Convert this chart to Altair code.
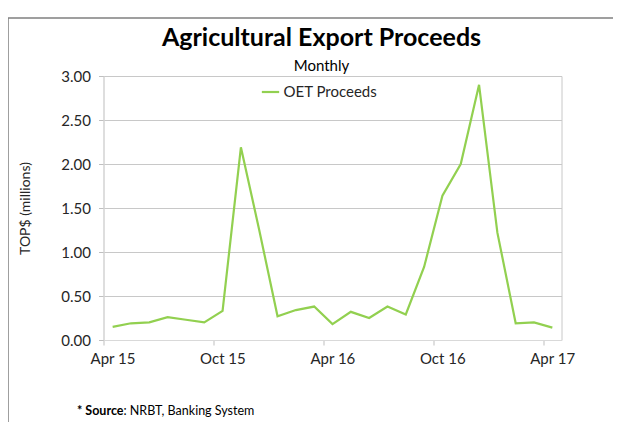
import altair as alt
import pandas as pd

months = ["Apr 15", "May 15", "Jun 15", "Jul 15", "Aug 15", "Sep 15", "Oct 15", "Nov 15",
          "Dec 15", "Jan 16", "Feb 16", "Mar 16", "Apr 16", "May 16", "Jun 16", "Jul 16",
          "Aug 16", "Sep 16", "Oct 16", "Nov 16", "Dec 16", "Jan 17", "Feb 17", "Mar 17", "Apr 17"]
proceeds = [0.15, 0.19, 0.20, 0.26, 0.23, 0.20, 0.33, 2.19,
            1.25, 0.27, 0.34, 0.38, 0.18, 0.32, 0.25, 0.38,
            0.29, 0.83, 1.64, 2.00, 2.90, 1.22, 0.19, 0.20, 0.14]
series_name = "OET Proceeds"
tick_labels = ["Apr 15", "Oct 15", "Apr 16", "Oct 16", "Apr 17"]
y_ticks = [0, 0.5, 1.0, 1.5, 2.0, 2.5, 3.0]
source_bold = "* Source"
source_rest = ": NRBT, Banking System"

df = pd.DataFrame({
    "idx": list(range(len(months))),
    "month": months,
    "value": proceeds,
    "series": [series_name] * len(months),
})
one = pd.DataFrame({"k": [0]})

FONT = "Lato"
W, H = 458, 264
label_expr = "[" + ",".join("'%s'" % t for t in tick_labels) + "][round((datum.value + 0.5) / 6)]"

line = alt.Chart(df).mark_line(strokeWidth=2.2).encode(
    x=alt.X("idx:Q",
            scale=alt.Scale(domain=[-0.5, len(months) - 0.5], nice=False, zero=False),
            axis=alt.Axis(values=[-0.5, 5.5, 11.5, 17.5, 23.5], labelExpr=label_expr,
                          labelOffset=9, labelFlush=False, grid=False, tickSize=5,
                          tickColor="#BFBFBF", domainColor="#D9D9D9", labelFontSize=15,
                          labelColor="#262626", labelPadding=6, labelFont=FONT, title=None)),
    y=alt.Y("value:Q",
            scale=alt.Scale(domain=[0, 3], nice=False),
            axis=alt.Axis(values=y_ticks, format=".2f", grid=True, gridColor="#C8C8C8",
                          tickSize=5, tickColor="#BFBFBF", domainColor="#D9D9D9",
                          labelFontSize=15, labelColor="#262626", labelPadding=8,
                          labelFont=FONT, title="TOP$ (millions)", titleFont=FONT,
                          titleFontSize=14, titleFontWeight="normal", titleColor="#262626",
                          titlePadding=28)),
    color=alt.Color("series:N",
                    scale=alt.Scale(range=["#92D050"]),
                    legend=alt.Legend(orient="none", legendX=157, legendY=6, title=None,
                                      symbolType="stroke", symbolSize=300,
                                      symbolStrokeWidth=2.2, labelFontSize=15,
                                      labelFont=FONT, labelColor="#262626", labelOffset=3)),
)

frame = alt.Chart(one).mark_rect(fill=None, stroke="#808080", strokeWidth=1.5).encode(
    x=alt.value(-95.5), x2=alt.value(700), y=alt.value(-58), y2=alt.value(500)
)

src_bold = alt.Chart(one).mark_text(align="right", baseline="middle", fontSize=12.5,
                                    fontWeight="bold", font=FONT, color="#000000").encode(
    x=alt.value(20), y=alt.value(335), text=alt.value(source_bold)
)
src_reg = alt.Chart(one).mark_text(align="left", baseline="middle", fontSize=12.5,
                                   font=FONT, color="#000000").encode(
    x=alt.value(20), y=alt.value(335), text=alt.value(source_rest)
)

chart = alt.layer(frame, line, src_bold, src_reg).properties(
    width=W, height=H,
    title=alt.TitleParams("Agricultural Export Proceeds", subtitle="Monthly",
                          font=FONT, fontSize=25, fontWeight="bold", color="#000000",
                          subtitleFont=FONT, subtitleFontSize=15, subtitleColor="#000000",
                          anchor="middle", frame="group", dx=-11, offset=-57,
                          subtitlePadding=8),
    autosize=alt.AutoSizeParams(type="none"),
    padding={"left": 95.5, "top": 68, "right": 51.5, "bottom": 82},
).configure_view(stroke="#C8C8C8", strokeWidth=1)

chart.save("out.html", embed_options={"renderer": "svg", "actions": False})
